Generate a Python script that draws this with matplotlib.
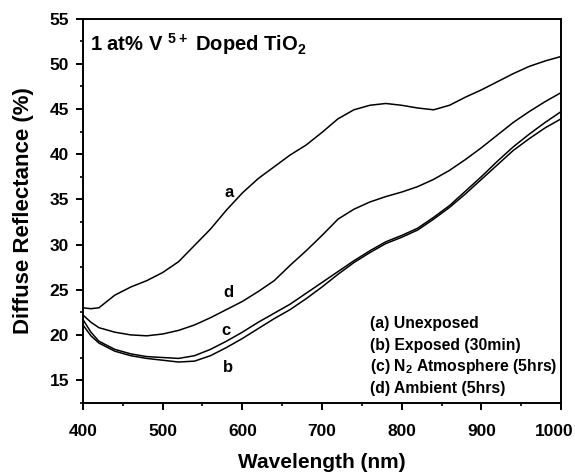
import matplotlib
matplotlib.use("Agg")
import matplotlib.pyplot as plt
from matplotlib.ticker import MultipleLocator, FuncFormatter

plt.rcParams["font.family"] = ["Liberation Sans", "DejaVu Sans"]
plt.rcParams["font.weight"] = "bold"
plt.rcParams["mathtext.fontset"] = "custom"
plt.rcParams["mathtext.bf"] = "Liberation Sans:bold"
plt.rcParams["mathtext.rm"] = "Liberation Sans:bold"
plt.rcParams["mathtext.default"] = "bf"

# Wavelength grid (nm)
wavelength = [400, 410, 420, 440, 460, 480, 500, 520, 540, 560, 580, 600, 620, 640, 660, 680,
              700, 720, 740, 760, 780, 800, 820, 840, 860, 880, 900, 920, 940, 960, 980, 1000]

# Diffuse reflectance (%)
refl_a = [23.0, 22.9, 23.0, 24.4, 25.3, 26.0, 26.9, 28.1, 29.9, 31.7, 33.8, 35.7, 37.3, 38.6, 39.9, 41.0,
          42.4, 43.9, 44.9, 45.4, 45.6, 45.4, 45.1, 44.9, 45.4, 46.3, 47.1, 48.0, 48.9, 49.7, 50.3, 50.8]
refl_b = [21.1, 19.9, 19.1, 18.2, 17.7, 17.4, 17.2, 17.0, 17.1, 17.7, 18.6, 19.6, 20.7, 21.8, 22.8, 24.0,
          25.3, 26.7, 28.0, 29.1, 30.1, 30.8, 31.6, 32.8, 34.1, 35.6, 37.2, 38.8, 40.4, 41.7, 42.9, 43.9]
refl_c = [21.7, 20.3, 19.3, 18.4, 17.9, 17.6, 17.5, 17.4, 17.7, 18.4, 19.3, 20.3, 21.4, 22.4, 23.4, 24.6,
          25.8, 27.0, 28.2, 29.3, 30.3, 31.0, 31.8, 33.0, 34.3, 35.9, 37.5, 39.2, 40.8, 42.2, 43.5, 44.7]
refl_d = [22.2, 21.4, 20.8, 20.3, 20.0, 19.9, 20.1, 20.5, 21.1, 21.9, 22.8, 23.7, 24.8, 26.0, 27.7, 29.3,
          31.0, 32.8, 33.9, 34.7, 35.3, 35.8, 36.4, 37.2, 38.2, 39.4, 40.7, 42.1, 43.5, 44.7, 45.8, 46.8]

curve_labels = ["a", "b", "c", "d"]
label_pos = [(584, 35.8), (582, 16.4), (580, 20.5), (582, 24.7)]

legend_lines = ["(a) Unexposed", "(b) Exposed (30min)",
                r"(c) N$_{2}$ Atmosphere (5hrs)", "(d) Ambient (5hrs)"]

fig = plt.figure(figsize=(5.75, 4.72), dpi=100)
ax = fig.add_axes([0.1443, 0.1468, 0.8314, 0.8140])

for y in [refl_a, refl_b, refl_c, refl_d]:
    ax.plot(wavelength, y, color="black", linewidth=1.1)

for lab, (x, y) in zip(curve_labels, label_pos):
    ax.text(x, y, lab, fontsize=12, fontweight="bold", ha="center", va="center")

ax.text(408.5, 51.4, r"1 at% V $^{5+}$ Doped TiO$_{2}$", fontsize=14.5,
        fontweight="bold", va="baseline")

for i, line in enumerate(legend_lines):
    ax.text(760, 20.8 - 2.42 * i, line, fontsize=11.3, fontweight="bold",
            va="baseline")

ax.set_xlim(400, 1000)
ax.set_ylim(12.5, 55)
ax.xaxis.set_major_locator(MultipleLocator(100))
ax.xaxis.set_minor_locator(MultipleLocator(50))
ax.yaxis.set_major_locator(MultipleLocator(5))
ax.yaxis.set_minor_locator(MultipleLocator(2.5))
# last x label is drawn separately so it stays inside the figure edge
ax.xaxis.set_major_formatter(FuncFormatter(lambda v, p: "" if v >= 1000 else f"{v:.0f}"))
ax.tick_params(which="major", direction="out", length=5, width=1.4,
               labelsize=12.5, top=False, right=False)
ax.tick_params(axis="x", which="major", pad=10.5)
ax.tick_params(axis="y", which="major", pad=5)
ax.tick_params(which="minor", direction="out", length=2.5, width=1.2,
               top=False, right=False)
for lbl in ax.get_xticklabels() + ax.get_yticklabels():
    lbl.set_fontweight("bold")
for sp in ax.spines.values():
    sp.set_linewidth(1.4)

ax.annotate("1000", xy=(1000, 0), xycoords=("data", "axes fraction"),
            xytext=(-5, -15.5), textcoords="offset points", ha="center", va="top",
            fontsize=12.5, fontweight="bold", annotation_clip=False)

ax.set_xlabel("Wavelength (nm)", fontsize=15, fontweight="bold")
ax.xaxis.set_label_coords(0.5, -0.13)
ax.set_ylabel("Diffuse Reflectance (%)", fontsize=16, fontweight="bold")
ax.yaxis.set_label_coords(-0.102, 0.5)

fig.savefig("out.png", dpi=100)
